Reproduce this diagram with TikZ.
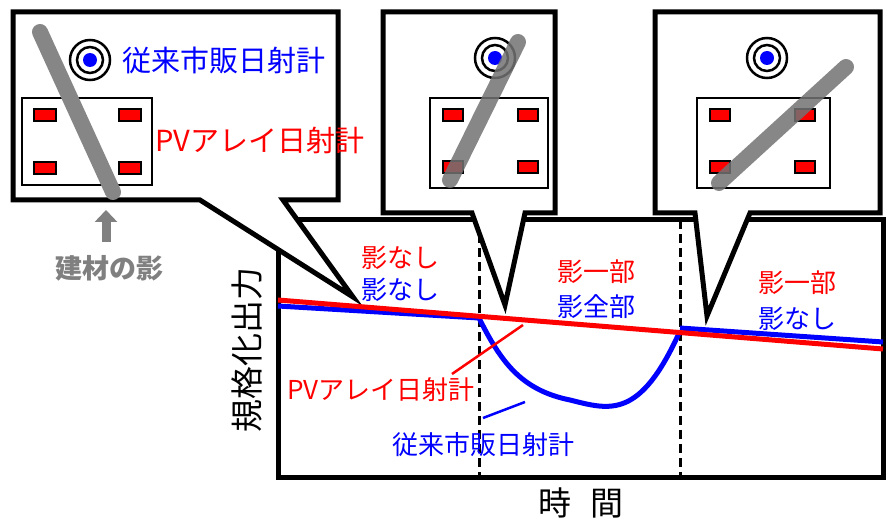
\documentclass[tikz,border=0pt]{standalone}
\usepackage{fontspec}
\usetikzlibrary{arrows.meta}
\setmainfont{Noto Sans CJK JP}
\begin{document}
\begin{tikzpicture}[x=1pt,y=-1pt,
  co/.style={draw=black,line width=5pt,fill=white,line join=miter},
  pan/.style={draw=black,line width=2pt,fill=white},
  rr/.style={draw=black,line width=1.5pt,fill=red},
  t/.style={font=\fontsize{26}{26}\selectfont,inner sep=0pt},
  tb/.style={font=\fontsize{29}{29}\selectfont,inner sep=0pt},
  ax/.style={font=\fontsize{33}{33}\selectfont,inner sep=0pt}]
\useasboundingbox (0,0) rectangle (895,532);
% plot box
\draw[line width=5pt] (278,220) rectangle (883,477);
\draw[dash pattern=on 9pt off 5pt,line width=3pt] (479,220)--(479,477) (680,220)--(680,477);
% callouts
\draw[co] (13,12)--(338,12)--(338,200)--(283,200)--(353,297)--(200,200)--(13,200)--cycle;
\draw[co] (383,12)--(555,12)--(555,213)--(525,213)--(505,305)--(472,213)--(383,213)--cycle;
\draw[co] (655,12)--(880,12)--(880,213)--(750,213)--(707,316)--(695,213)--(655,213)--cycle;
% callout 1
\draw[pan] (22,98) rectangle (152,185);
\foreach \p in {(45,115),(130,115),(45,168),(130,168)} \draw[rr] \p ++(-11,-6) rectangle ++(22,12);
\draw[line width=16pt,gray!95,line cap=round] (40,32)--(113,192);
\foreach \c in {(90,60)} {\draw[line width=2.5pt,fill=white] \c circle (20); \draw[line width=2.5pt] \c circle (13); \fill[blue] \c circle (7);}
\node[tb,blue,anchor=west] (a1) at (122,60) {従来市販日射計};
\node[tb,red,anchor=west] (a2) at (155,140) {PVアレイ日射計};
\draw[line width=9pt,gray,-{Triangle[width=22pt,length=12pt]}] (106,242)--(106,210);
\node[t,gray,font=\fontsize{27}{27}\selectfont\bfseries] (a3) at (110,268) {建材の影};
% callout 2
\draw[pan] (430,98) rectangle (548,188);
\foreach \p in {(453,115),(528,115),(453,167),(528,167)} \draw[rr] \p ++(-10,-6) rectangle ++(20,12);
\draw[line width=2.5pt,fill=white] (495,58) circle (20); \draw[line width=2.5pt] (495,58) circle (13); \fill[blue] (495,58) circle (7);
\draw[line width=16pt,black!55,opacity=0.85,line cap=round] (518,42)--(450,180);
% callout 3
\draw[pan] (697,98) rectangle (830,188);
\foreach \p in {(720,115),(805,115),(720,167),(805,167)} \draw[rr] \p ++(-10,-6) rectangle ++(20,12);
\draw[line width=2.5pt,fill=white] (767,58) circle (20); \draw[line width=2.5pt] (767,58) circle (13); \fill[blue] (767,58) circle (7);
\draw[line width=16pt,black!55,opacity=0.85,line cap=round] (846,67)--(719,183);
% curves
\draw[blue,line width=5pt] (278,306)--(479,318) .. controls (500,360) and (520,390) .. (570,400) .. controls (610,410) and (640,420) .. (680,331);
\draw[blue,line width=5pt] (680,328)--(883,342);
\draw[red,line width=5pt] (278,300)--(883,349);
\draw[red,line width=2.5pt] (452,374)--(523,325);
\draw[blue,line width=2.5pt] (483,418)--(525,402);
% texts
\node[t,red] (b1) at (400,258) {影なし};
\node[t,blue] (b2) at (400,290) {影なし};
\node[t,red] (b3) at (596,272) {影一部};
\node[t,blue] (b4) at (596,307) {影全部};
\node[t,red] (b5) at (797,283) {影一部};
\node[t,blue] (b6) at (797,319) {影なし};
\node[t,red] (b7) at (381,390) {PVアレイ日射計};
\node[t,blue] (b8) at (483,445) {従来市販日射計};
\node[ax,rotate=90] (ya) at (247,350) {規格化出力};
\node[ax] (xa) at (581,503) {時\hspace{0.6em}間};
\end{tikzpicture}
\end{document}
